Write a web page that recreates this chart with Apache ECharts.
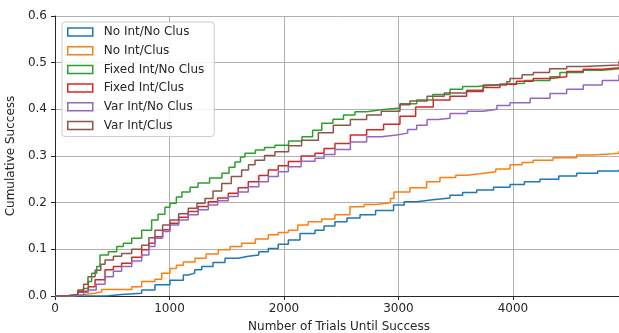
<!DOCTYPE html>
<html><head><meta charset="utf-8">
<script src="https://cdn.jsdelivr.net/npm/echarts@6/dist/echarts.min.js"></script>
<style>html,body{margin:0;padding:0;background:#fff}#c{width:619px;height:333px}</style>
</head><body><div id="c"></div>
<script>
const seriesNames = ["No Int/No Clus","No Int/Clus","Fixed Int/No Clus","Fixed Int/Clus","Var Int/No Clus","Var Int/Clus"];
const colors = ["#1f77b4","#ff7f0e","#2ca02c","#d62728","#9467bd","#8c564b"];
const xTicks = [0,1000,2000,3000,4000];
const yTicks = [0,0.1,0.2,0.3,0.4,0.5,0.6];

const noIntNoClus = [[0,0],[380,0],[450,0.003],[582,0.006],[757,0.013],[873,0.024],[1004,0.034],[1121,0.045],[1164,0.049],[1220,0.056],[1281,0.063],[1380,0.072],[1485,0.081],[1600,0.085],[1688,0.088],[1780,0.095],[1863,0.102],[1950,0.111],[2038,0.12],[2140,0.134],[2271,0.141],[2350,0.15],[2445,0.159],[2550,0.167],[2664,0.174],[2800,0.183],[2957,0.195],[3050,0.202],[3159,0.206],[3300,0.21],[3450,0.216],[3560,0.222],[3683,0.227],[3830,0.233],[3974,0.239],[4100,0.245],[4236,0.25],[4400,0.257],[4556,0.263],[4740,0.268],[4926,0.271]];
const noIntClus = [[0,0],[150,0.003],[250,0.006],[349,0.009],[408,0.014],[600,0.014],[670,0.02],[757,0.031],[873,0.036],[932,0.049],[1004,0.059],[1060,0.066],[1121,0.073],[1223,0.081],[1320,0.09],[1426,0.099],[1530,0.106],[1630,0.113],[1750,0.122],[1863,0.131],[1950,0.136],[2038,0.141],[2120,0.152],[2212,0.159],[2330,0.165],[2445,0.174],[2576,0.191],[2700,0.196],[2800,0.2],[2930,0.209],[2960,0.223],[3100,0.232],[3246,0.245],[3362,0.254],[3500,0.259],[3600,0.262],[3712,0.266],[3850,0.272],[3974,0.281],[4080,0.286],[4177,0.291],[4350,0.296],[4556,0.302],[4700,0.305],[4876,0.306],[4926,0.311]];
const fixedIntNoClus = [[0,0],[150,0.003],[200,0.008],[247,0.016],[291,0.031],[320,0.049],[364,0.063],[393,0.088],[466,0.095],[539,0.106],[597,0.113],[670,0.124],[757,0.141],[844,0.163],[900,0.175],[960,0.19],[1004,0.199],[1060,0.212],[1109,0.223],[1180,0.233],[1249,0.242],[1350,0.253],[1458,0.263],[1520,0.276],[1572,0.287],[1620,0.298],[1659,0.306],[1750,0.313],[1830,0.318],[1921,0.323],[2040,0.332],[2157,0.341],[2250,0.355],[2330,0.37],[2428,0.379],[2520,0.388],[2620,0.395],[2722,0.399],[2850,0.403],[3013,0.412],[3159,0.42],[3300,0.432],[3450,0.443],[3560,0.449],[3683,0.453],[3886,0.456],[4100,0.462],[4323,0.47],[4410,0.479],[4614,0.484],[4780,0.487],[4926,0.49]];
const fixedIntClus = [[0,0],[100,0.003],[200,0.01],[291,0.02],[350,0.035],[437,0.056],[510,0.063],[582,0.07],[670,0.083],[757,0.099],[820,0.113],[873,0.127],[940,0.142],[1004,0.156],[1080,0.169],[1164,0.181],[1250,0.192],[1339,0.202],[1420,0.21],[1514,0.22],[1600,0.232],[1688,0.245],[1780,0.258],[1863,0.27],[1950,0.279],[2038,0.288],[2150,0.3],[2271,0.306],[2350,0.316],[2445,0.327],[2580,0.345],[2722,0.356],[2870,0.368],[3013,0.385],[3150,0.405],[3304,0.42],[3450,0.428],[3595,0.438],[3740,0.447],[3886,0.454],[4030,0.46],[4177,0.466],[4323,0.47],[4469,0.481],[4614,0.486],[4780,0.489],[4926,0.492]];
const varIntNoClus = [[0,0],[150,0.002],[250,0.008],[291,0.013],[360,0.025],[437,0.041],[510,0.053],[582,0.063],[670,0.075],[757,0.088],[820,0.106],[873,0.124],[940,0.138],[1004,0.152],[1080,0.163],[1164,0.174],[1250,0.185],[1339,0.195],[1420,0.204],[1514,0.213],[1600,0.223],[1688,0.234],[1780,0.245],[1863,0.256],[1950,0.266],[2038,0.277],[2150,0.289],[2271,0.295],[2350,0.303],[2445,0.314],[2580,0.33],[2722,0.341],[2850,0.345],[2984,0.349],[3080,0.357],[3159,0.366],[3250,0.378],[3345,0.381],[3450,0.391],[3600,0.396],[3741,0.4],[3860,0.408],[3974,0.414],[4150,0.424],[4323,0.434],[4469,0.443],[4614,0.452],[4780,0.462],[4926,0.474]];
const varIntClus = [[0,0],[100,0.004],[200,0.013],[250,0.025],[288,0.041],[350,0.055],[400,0.068],[437,0.077],[510,0.085],[582,0.091],[670,0.1],[757,0.109],[820,0.125],[873,0.141],[940,0.152],[1004,0.163],[1080,0.176],[1164,0.188],[1240,0.199],[1310,0.209],[1380,0.225],[1456,0.241],[1540,0.256],[1630,0.27],[1690,0.281],[1747,0.291],[1830,0.301],[1921,0.309],[2040,0.322],[2154,0.334],[2300,0.35],[2431,0.366],[2580,0.378],[2722,0.388],[2850,0.396],[3013,0.41],[3100,0.418],[3250,0.428],[3400,0.435],[3595,0.441],[3740,0.452],[3945,0.459],[3974,0.466],[4080,0.474],[4178,0.479],[4320,0.487],[4469,0.492],[4614,0.495],[4926,0.503]];

const allData = [noIntNoClus, noIntClus, fixedIntNoClus, fixedIntClus, varIntNoClus, varIntClus];
const font = "DejaVu Sans";
const txt = "#262626";

const chart = echarts.init(document.getElementById('c'), null, {renderer:'canvas'});
chart.setOption({
  animation:false,
  backgroundColor:'#fff',
  grid:{left:55, right:-4, top:16, bottom:37, containLabel:false, outerBoundsMode:'none'},
  legend:{
    orient:'vertical', left:62, top:22,
    padding:[3,10,4,5],
    backgroundColor:'rgba(255,255,255,0.85)',
    borderColor:'#cccccc', borderWidth:1, borderRadius:3,
    itemWidth:25, itemHeight:8, itemGap:4.7,
    textStyle:{fontFamily:font, fontSize:12, color:txt, lineHeight:14, padding:[0,0,0,6]},
    data: seriesNames.map((n,i)=>({name:n, icon:'rect', itemStyle:{color:'rgba(255,255,255,0)', borderColor:colors[i], borderWidth:1.5}}))
  },
  xAxis:{
    type:'value', min:0, max:4961, interval:1000,
    name:'Number of Trials Until Success', nameLocation:'middle', nameGap:25,
    nameTextStyle:{fontFamily:font, fontSize:12, color:txt},
    axisLine:{show:true, onZero:false, lineStyle:{color:'#262626', width:1}},
    axisTick:{show:true, length:4, lineStyle:{color:'#262626'}},
    axisLabel:{fontFamily:font, fontSize:12, color:txt, margin:7,
      formatter:v=> xTicks.includes(v) ? String(v) : ''},
    splitLine:{show:true, lineStyle:{color:'#b0b0b0', width:1}}
  },
  yAxis:{
    type:'value', min:0, max:0.6, interval:0.1,
    name:'Cumulative Success', nameLocation:'middle', nameGap:33,
    nameTextStyle:{fontFamily:font, fontSize:12, color:txt},
    axisLine:{show:true, lineStyle:{color:'#262626', width:1}},
    axisTick:{show:true, length:4, lineStyle:{color:'#262626'}},
    axisLabel:{fontFamily:font, fontSize:12, color:txt, margin:8,
      formatter:v=> yTicks.some(t=>Math.abs(t-v)<1e-9) ? v.toFixed(1) : ''},
    splitLine:{show:true, lineStyle:{color:'#b0b0b0', width:1}}
  },
  series: seriesNames.map((n,i)=>({
    name:n, type:'line', step:'end', data: allData[i],
    showSymbol:false, symbol:'none',
    lineStyle:{color:colors[i], width:1.5},
    itemStyle:{color:colors[i]}
  }))
});
</script></body></html>
